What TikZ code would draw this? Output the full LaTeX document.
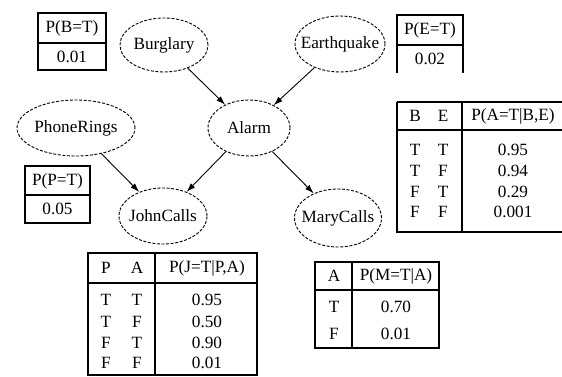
\documentclass[tikz,border=0pt]{standalone}
\usepackage{fontspec}
\setmainfont{Liberation Serif}
\usetikzlibrary{arrows.meta,shapes.geometric}
% label of zero width, so the ellipse keeps its own size
\newcommand\varlabel[1]{\makebox[0pt]{#1}}
\begin{document}
\begin{tikzpicture}[x=1pt,y=-1pt,
  every node/.style={font=\fontsize{17.2}{19}\selectfont, inner sep=0pt},
  var/.style={ellipse, draw, line width=0.9pt, dash pattern=on 3pt off 1.6pt,
              minimum width=88pt, minimum height=56pt},
  edge/.style={-{Latex[length=9pt,width=6pt]}, line width=0.9pt},
  rule/.style={line width=1.2pt},
  cell/.style={anchor=center}]
\useasboundingbox (0,0) rectangle (562,377);
\fill[white] (0,0) rectangle (562,377);

% network nodes
\node[var, minimum height=54pt] (burg) at (164,45) {\varlabel{Burglary}};
\node[var, minimum width=90pt] (quake) at (340,44) {\varlabel{Earthquake}};
\node[var, minimum width=82pt] (alarm) at (249,128) {\varlabel{Alarm}};
\node[var, minimum width=118pt] (phone) at (76,128) {\varlabel{PhoneRings}};
\node[var] (john) at (163,216) {\varlabel{JohnCalls}};
\node[var, minimum width=87pt, minimum height=58pt] (mary) at (338,218) {\varlabel{MaryCalls}};

% dependencies
\draw[edge] (burg) -- (alarm);
\draw[edge] (quake) -- (alarm);
\draw[edge] (phone) -- (john);
\draw[edge] (alarm) -- (john);
\draw[edge] (alarm) -- (mary);

% prior for B
\draw[rule] (38,13) rectangle (106,70);
\draw[rule] (38,43) -- (106,43);
\node[cell] (pbh) at (72,28) {P(B=T)};
\node[cell] (pbv) at (72,57) {0.01};

% prior for E
\draw[rule] (397,73) -- (397,15) -- (463,15) -- (463,73);
\draw[rule] (397,45) -- (463,45);
\node[cell] (peh) at (430,30) {P(E=T)};
\node[cell] (pev) at (430,59) {0.02};

% prior for P
\draw[rule] (25,166) rectangle (90,223);
\draw[rule] (25,195) -- (90,195);
\node[cell] (pph) at (57.5,181) {P(P=T)};
\node[cell] (ppv) at (57.5,209) {0.05};

% table for A
\draw[rule] (397,102) -- (562,102);
\draw[rule] (397,102) -- (397,232) -- (562,232);
\draw[rule] (462,102) -- (462,232);
\draw[rule] (397,130) -- (562,130);
\node[cell] (ab) at (415,116) {B};
\node[cell] (ae) at (443,116) {E};
\node[cell] (ah) at (513,116) {P(A=T|B,E)};
\foreach \b/\e/\v/\y [count=\i] in {T/T/0.95/150, T/F/0.94/171, F/T/0.29/192, F/F/0.001/212}{
  \node[cell] (ab\i) at (415,\y) {\b};
  \node[cell] (ae\i) at (443,\y) {\e};
  \node[cell] (av\i) at (513,\y) {\v};
}

% table for J
\draw[rule] (88,253) rectangle (257,375);
\draw[rule] (155,253) -- (155,375);
\draw[rule] (88,283) -- (257,283);
\node[cell] (jp) at (106,268) {P};
\node[cell] (ja) at (137,268) {A};
\node[cell] (jh) at (207,268) {P(J=T|P,A)};
\foreach \p/\a/\v/\y [count=\i] in {T/T/0.95/300, T/F/0.50/322, F/T/0.90/343, F/F/0.01/363}{
  \node[cell] (jp\i) at (106,\y) {\p};
  \node[cell] (ja\i) at (137,\y) {\a};
  \node[cell] (jv\i) at (207,\y) {\v};
}

% table for M
\draw[rule] (315,262) rectangle (439,348);
\draw[rule] (352,262) -- (352,348);
\draw[rule] (315,290) -- (439,290);
\node[cell] (ma) at (334,276) {A};
\node[cell] (mh) at (396,276) {P(M=T|A)};
\node[cell] (ma1) at (334,307) {T};
\node[cell] (mv1) at (396,307) {0.70};
\node[cell] (ma2) at (334,334) {F};
\node[cell] (mv2) at (396,334) {0.01};
\end{tikzpicture}
\end{document}
